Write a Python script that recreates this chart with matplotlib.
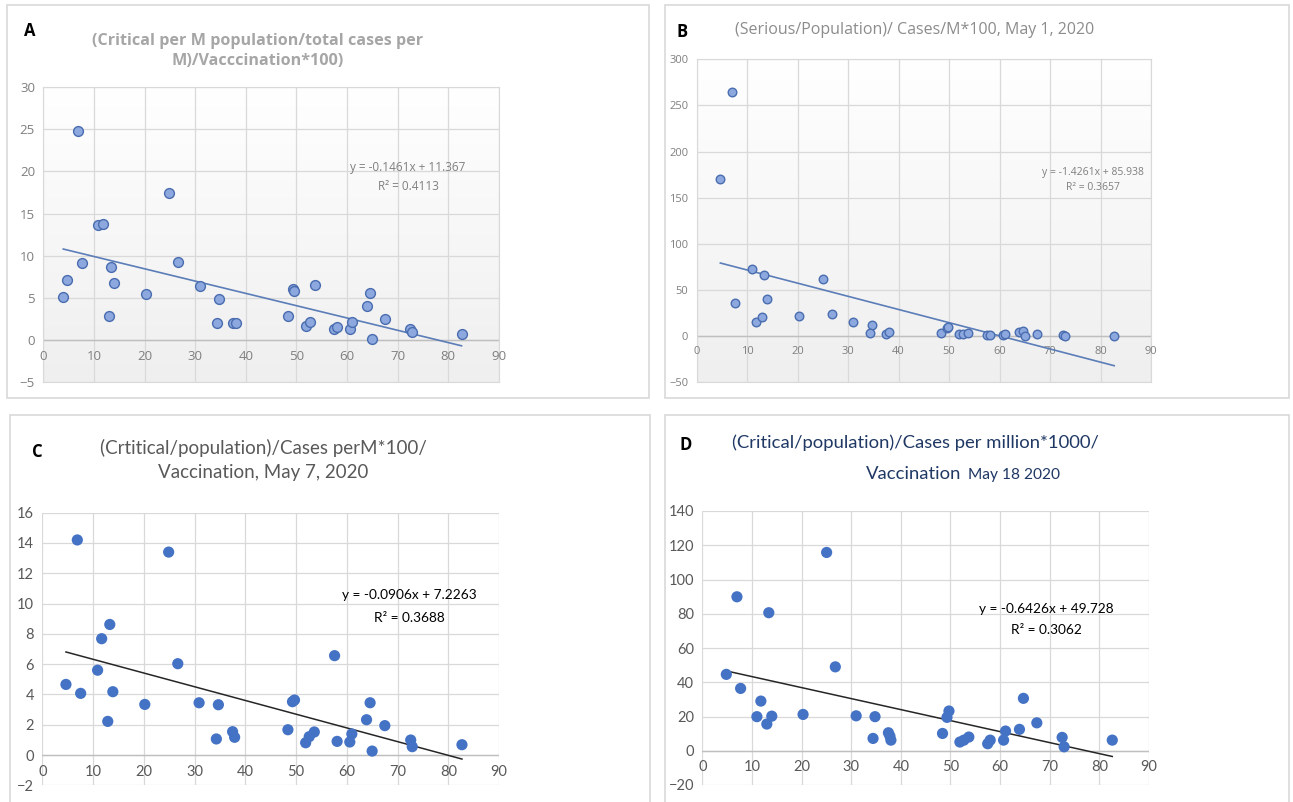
import matplotlib
matplotlib.use('Agg')
import matplotlib.pyplot as plt
import numpy as np
from matplotlib.patches import Rectangle
import matplotlib.transforms as mtransforms

# ---------------- data ----------------
x_ticks = [0, 10, 20, 30, 40, 50, 60, 70, 80, 90]

xA = [3.95, 4.74, 6.9, 7.6, 10.8, 11.8, 12.9, 13.4, 14.0, 20.2, 24.9, 26.7, 30.9, 34.7, 34.3, 37.4, 38.0,
      48.4, 49.3, 49.6, 51.9, 52.6, 53.6, 57.4, 58.1, 60.6, 61.0, 63.9, 64.6, 64.9, 67.4, 72.5, 72.9, 82.6]
yA = [5.07, 7.13, 24.8, 9.1, 13.7, 13.8, 2.81, 8.63, 6.81, 5.46, 17.46, 9.3, 6.41, 4.87, 1.98, 1.98, 2.06,
      2.85, 6.1, 5.78, 1.70, 2.10, 6.53, 1.35, 1.50, 1.31, 2.14, 4.04, 5.58, 0.16, 2.49, 1.31, 0.95, 0.71]
yticks_A = [-5, 0, 5, 10, 15, 20, 25, 30]
fit_A = (-0.1461, 11.367)
eq_A = ["y = -0.1461x + 11.367", "R² = 0.4113"]
title_A = "(Critical per M population/total cases per\nM)/Vacccination*100)"

xB = [4.69, 6.94, 7.66, 11.0, 11.76, 12.9, 13.3, 13.9, 20.3, 25.0, 26.75, 31.0, 34.8, 34.4, 37.6, 38.0,
      48.3, 49.5, 49.7, 51.9, 52.7, 53.8, 57.6, 58.2, 60.7, 61.1, 63.9, 64.7, 65.0, 67.5, 72.5, 73.0, 82.7]
yB = [169.8, 264.1, 36.1, 72.6, 15.5, 21.0, 66.1, 40.5, 21.7, 61.4, 23.5, 15.5, 12.6, 3.6, 2.5, 4.0,
      3.6, 9.0, 9.4, 2.2, 2.2, 3.6, 1.4, 1.4, 1.4, 2.2, 4.3, 6.1, 0.4, 2.5, 1.4, 0.7, 0.7]
yticks_B = [-50, 0, 50, 100, 150, 200, 250, 300]
fit_B = (-1.4261, 85.938)
eq_B = ["y = -1.4261x + 85.938", "R² = 0.3657"]
title_B = "(Serious/Population)/ Cases/M*100, May 1, 2020"

xC = [4.66, 6.9, 7.56, 10.9, 11.7, 12.9, 13.3, 13.9, 20.2, 24.9, 26.7, 30.9, 34.7, 34.3, 37.5, 37.9,
      48.4, 49.3, 49.7, 51.9, 52.6, 53.6, 57.6, 58.1, 60.6, 61.0, 63.9, 64.6, 65.0, 67.5, 72.6, 72.9, 82.7]
yC = [4.66, 14.2, 4.07, 5.6, 7.68, 2.22, 8.62, 4.18, 3.34, 13.4, 6.03, 3.45, 3.32, 1.06, 1.54, 1.17,
      1.67, 3.52, 3.63, 0.81, 1.21, 1.52, 6.56, 0.90, 0.86, 1.39, 2.33, 3.45, 0.26, 1.94, 0.99, 0.55, 0.68]
yticks_C = [-2, 0, 2, 4, 6, 8, 10, 12, 14, 16]
fit_C = (-0.0906, 7.2263)
eq_C = ["y = -0.0906x + 7.2263", "R² = 0.3688"]
title_C = "(Crtitical/population)/Cases perM*100/\nVaccination, May 7, 2020"

xD = [4.84, 6.98, 7.72, 11.0, 11.8, 13.0, 13.4, 14.0, 20.3, 25.05, 26.8, 31.0, 34.8, 34.4, 37.5, 37.8, 38.0,
      48.4, 49.3, 49.7, 51.9, 52.7, 53.7, 57.5, 58.0, 60.7, 61.1, 63.9, 64.7, 67.4, 72.5, 72.9, 82.6]
yD = [44.6, 89.9, 36.4, 19.9, 29.0, 15.6, 80.6, 20.2, 21.2, 115.8, 49.0, 20.4, 19.9, 7.2, 10.5, 8.6, 6.2,
      10.1, 19.5, 23.2, 5.1, 6.2, 8.0, 4.1, 6.2, 6.2, 11.5, 12.5, 30.6, 16.3, 7.8, 2.3, 6.2]
yticks_D = [-20, 0, 20, 40, 60, 80, 100, 120, 140]
fit_D = (-0.6426, 49.728)
eq_D = ["y = -0.6426x + 49.728", "R² = 0.3062"]
title_D_line1 = "(Critical/population)/Cases per million*1000/"
title_D_line2a = "Vaccination"
title_D_line2b = "May 18 2020"

# ---------------- figure ----------------
W, H = 1293, 802
fig = plt.figure(figsize=(W / 100, H / 100), dpi=100)
NARROW = 'Lato'


def fx(x):
    return x / W


def fy(y):
    return 1 - y / H


def add_ax(x0, y_top, x1, y_bot):
    return fig.add_axes([fx(x0), fy(y_bot), fx(x1) - fx(x0), fy(y_top) - fy(y_bot)])


# panel frames
for (x0, y0, x1, y1) in [(7, 5, 649, 398), (665, 5, 1289, 398), (10, 415, 650, 805), (665, 415, 1289, 805)]:
    fig.patches.append(Rectangle((fx(x0), fy(y1)), fx(x1) - fx(x0), fy(y0) - fy(y1),
                                 transform=fig.transFigure, fill=False, edgecolor='#D9D9D9', lw=1.2))


def style_axes(ax, yticks, tick_font, tick_color, tick_size, gradient):
    ax.set_xlim(0, 90)
    ax.set_ylim(yticks[0], yticks[-1])
    ax.set_xticks(x_ticks)
    ax.set_yticks(yticks)
    ax.grid(True, color='#D9D9D9', lw=0.9, zorder=1)
    ax.set_axisbelow(True)
    for s in ax.spines.values():
        s.set_visible(False)
    ax.tick_params(length=0, labelbottom=False, labelleft=True, pad=6,
                   labelsize=tick_size, labelcolor=tick_color)
    for lab in ax.get_yticklabels():
        lab.set_fontfamily(tick_font)
    ax.set_facecolor('white')
    if gradient:
        grad = np.linspace(1.0, 0.0, 256).reshape(-1, 1)
        cmap = matplotlib.colors.LinearSegmentedColormap.from_list('g', ['#EFEFEF', '#FFFFFF'])
        ax.imshow(grad, extent=[0, 90, yticks[0], yticks[-1]], aspect='auto', cmap=cmap,
                  zorder=0, origin='upper')
        ax.set_xlim(0, 90)
        ax.set_ylim(yticks[0], yticks[-1])
        for s in ax.spines.values():
            s.set_visible(True)
            s.set_color('#D9D9D9')
    ax.axhline(0, color='#BFBFBF', lw=1.0, zorder=1.5)
    off = mtransforms.offset_copy(ax.transData, fig=fig, x=0, y=-7, units='points')
    for t in x_ticks:
        ax.text(t, 0, str(t), transform=off, ha='center', va='top', fontsize=tick_size,
                color=tick_color, family=tick_font, clip_on=False)


# ---- Panel A ----
axA = add_ax(43.3, 87.3, 499, 382)
style_axes(axA, yticks_A, 'Open Sans', '#7F7F7F', 9.5, True)
lx = np.array([min(xA), max(xA)])
axA.plot(lx, fit_A[0] * lx + fit_A[1], color='#5B7DB8', lw=1.2, zorder=3)
axA.scatter(xA, yA, s=50, facecolor='#8CA8DE', edgecolor='#4A6DB0', lw=1.0, zorder=4)
fig.text(fx(408), fy(168), eq_A[0], ha='center', va='center', fontsize=8.5, color='#7F7F7F', family='Open Sans')
fig.text(fx(408), fy(186), eq_A[1], ha='center', va='center', fontsize=8.5, color='#7F7F7F', family='Open Sans')
fig.text(fx(258), fy(51), title_A, ha='center', va='center', fontsize=11.6, color='#A6A6A6',
         family='Open Sans', fontweight='bold', linespacing=1.3)
fig.text(fx(30), fy(31), "A", ha='center', va='center', fontsize=12, fontweight='bold', color='black', family='Open Sans')

# ---- Panel B ----
axB = add_ax(696.7, 59.3, 1151, 382.3)
style_axes(axB, yticks_B, 'Open Sans', '#7F7F7F', 8, True)
lx = np.array([min(xB), max(xB)])
axB.plot(lx, fit_B[0] * lx + fit_B[1], color='#5B7DB8', lw=1.2, zorder=3)
axB.scatter(xB, yB, s=38, facecolor='#8CA8DE', edgecolor='#4A6DB0', lw=1.0, zorder=4)
fig.text(fx(1093), fy(172), eq_B[0], ha='center', va='center', fontsize=7.5, color='#7F7F7F', family='Open Sans')
fig.text(fx(1093), fy(188), eq_B[1], ha='center', va='center', fontsize=7.5, color='#7F7F7F', family='Open Sans')
fig.text(fx(915), fy(30), title_B, ha='center', va='center', fontsize=11.5, color='#8C8C8C', family='Open Sans')
fig.text(fx(682), fy(32), "B", ha='center', va='center', fontsize=12, fontweight='bold', color='black', family='Open Sans')

# ---- Panel C ----
axC = add_ax(42.3, 512.7, 499, 785.3)
style_axes(axC, yticks_C, NARROW, '#595959', 10.5, False)
lx = np.array([min(xC), max(xC)])
axC.plot(lx, fit_C[0] * lx + fit_C[1], color='#262626', lw=1.1, zorder=3)
axC.scatter(xC, yC, s=65, facecolor='#4472C4', edgecolor='none', zorder=4)
fig.text(fx(409), fy(595), eq_C[0], ha='center', va='center', fontsize=9.8, color='black', family=NARROW)
fig.text(fx(409), fy(618), eq_C[1], ha='center', va='center', fontsize=9.8, color='black', family=NARROW)
fig.text(fx(263), fy(460), title_C, ha='center', va='center', fontsize=13.5, color='#595959', family=NARROW,
         linespacing=1.45)
fig.text(fx(37), fy(452), "C", ha='center', va='center', fontsize=12, fontweight='bold', color='black', family='Open Sans')

# ---- Panel D ----
axD = add_ax(702.3, 511, 1149, 785)
style_axes(axD, yticks_D, NARROW, '#595959', 10.5, False)
lx = np.array([min(xD), max(xD)])
axD.plot(lx, fit_D[0] * lx + fit_D[1], color='#262626', lw=1.1, zorder=3)
axD.scatter(xD, yD, s=65, facecolor='#4472C4', edgecolor='none', zorder=4)
fig.text(fx(1046), fy(609), eq_D[0], ha='center', va='center', fontsize=9.8, color='black', family=NARROW)
fig.text(fx(1046), fy(630), eq_D[1], ha='center', va='center', fontsize=9.8, color='black', family=NARROW)
fig.text(fx(915), fy(443), title_D_line1, ha='center', va='center', fontsize=13.3, color='#1F3864', family=NARROW)
fig.text(fx(961), fy(474), title_D_line2a, ha='right', va='center', fontsize=13.3, color='#1F3864', family=NARROW)
fig.text(fx(968), fy(475), title_D_line2b, ha='left', va='center', fontsize=11.2, color='#1F3864', family=NARROW)
fig.text(fx(686), fy(445), "D", ha='center', va='center', fontsize=12, fontweight='bold', color='black', family='Open Sans')

fig.savefig('out.png', dpi=100, facecolor='white')
